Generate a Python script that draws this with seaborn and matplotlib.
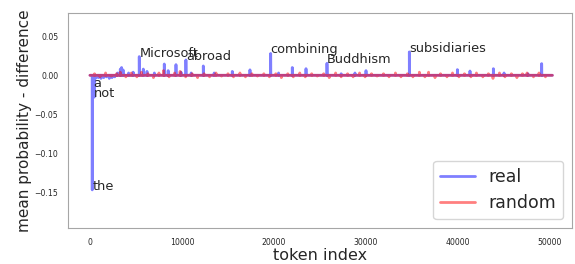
import numpy as np
import matplotlib
matplotlib.use("Agg")
from matplotlib import pyplot as plt
import seaborn as sns

# vocabulary size (GPT-2 tokenizer)
n_tokens = 50257

# spikes of the "real" difference curve (token index, value)
real_idx = [250, 360, 470, 600, 900, 1200, 1500, 1800, 2100, 2400, 2700, 3000,
            3300, 3440, 3600, 4200, 4700, 5360, 5800, 6200, 7000, 8080, 8500,
            9350, 9900, 10430, 11000, 12320, 13500, 15470, 17390, 19640, 20500,
            21990, 23480, 25760, 27300, 28800, 30000, 34710, 39930, 41300,
            43840, 45000, 47600, 49090]
real_val = [-0.147, -0.0155, -0.028, -0.004, -0.003, -0.004, -0.003, -0.002,
            -0.004, -0.003, -0.002, 0.003, 0.008, 0.010, 0.007, 0.003, 0.004,
            0.024, 0.008, 0.005, 0.003, 0.0145, 0.006, 0.0137, 0.004, 0.0197,
            0.003, 0.012, 0.003, 0.005, 0.007, 0.028, 0.003, 0.010, 0.0085,
            0.0154, 0.002, 0.003, 0.006, 0.030, 0.0073, 0.0055, 0.0085, 0.003,
            0.002, 0.015]

# fluctuations of the "random" baseline curve
rand_idx = [500, 1100, 1700, 2300, 2900, 3300, 3900, 4500, 5100, 5600, 6300,
            6900, 7500, 8000, 8600, 9200, 9800, 10400, 11100, 11700, 12400,
            13000, 13700, 14300, 15000, 15600, 16300, 16900, 17600, 18200,
            18900, 19500, 20200, 20800, 21500, 22100, 22800, 23400, 24100,
            24700, 25400, 26000, 26700, 27300, 28000, 28600, 29300, 29900,
            30600, 31200, 31900, 32500, 33200, 33800, 34500, 35100, 35800,
            36400, 36800, 37500, 38100, 38800, 39400, 40100, 40700, 41400,
            42000, 42700, 43300, 43800, 44500, 45100, 45800, 46400, 47000,
            47500, 48200, 48800, 49500]
rand_val = [0.002, -0.002, 0.003, -0.001, 0.002, 0.004, -0.002, 0.003, -0.002,
            0.004, 0.002, -0.003, 0.003, 0.006, -0.002, 0.003, 0.005, -0.002,
            0.002, -0.003, 0.002, -0.002, 0.003, -0.001, 0.002, -0.002, 0.003,
            -0.002, 0.002, -0.001, 0.002, -0.002, 0.002, -0.003, 0.002, -0.002,
            0.003, -0.002, 0.002, -0.001, 0.002, -0.003, 0.003, -0.002, 0.002,
            -0.002, 0.003, -0.002, 0.002, -0.001, 0.002, -0.002, 0.003, -0.002,
            0.002, -0.002, 0.004, -0.002, 0.004, -0.003, 0.002, -0.002, 0.003,
            -0.002, 0.002, -0.002, 0.003, -0.002, 0.002, -0.004, 0.003, -0.002,
            0.002, -0.003, 0.002, 0.003, -0.002, 0.003, -0.002]

# annotated tokens
words = ["the", "a", "not", "Microsoft", "abroad", "combining", "Buddhism",
         "subsidiaries"]
word_idx = [250, 360, 470, 5360, 10430, 19640, 25760, 34710]

real = np.zeros(n_tokens)
real[real_idx] = real_val
rand = np.zeros(n_tokens)
rand[rand_idx] = rand_val
tokens = np.arange(n_tokens)

sns.set_style("white", {"axes.edgecolor": ".65"})

fig, ax = plt.subplots(figsize=(5.75, 2.64), dpi=100)
fig.subplots_adjust(left=0.118, right=0.995, bottom=0.136, top=0.951)

sns.lineplot(x=tokens, y=real, color="blue", alpha=0.5, linewidth=2,
             estimator=None, label="real", ax=ax)
sns.lineplot(x=tokens, y=rand, color="red", alpha=0.5, linewidth=2,
             estimator=None, label="random", ax=ax)

for w, i in zip(words, word_idx):
    ax.text(i, real[i], w, fontsize=9.3)

ax.set_xlim(-2400, 52400)
ax.set_ylim(-0.196, 0.08)
ax.set_xticks([0, 10000, 20000, 30000, 40000, 50000])
ax.set_yticks([-0.15, -0.10, -0.05, 0.00, 0.05])
ax.tick_params(labelsize=5.6)
ax.set_xlabel("token index", fontsize=11.5, labelpad=1)
ax.set_ylabel("mean probability - difference", fontsize=11, labelpad=2)
ax.legend(loc="lower right", fontsize=12.5)

plt.savefig("out.png", dpi=100)
